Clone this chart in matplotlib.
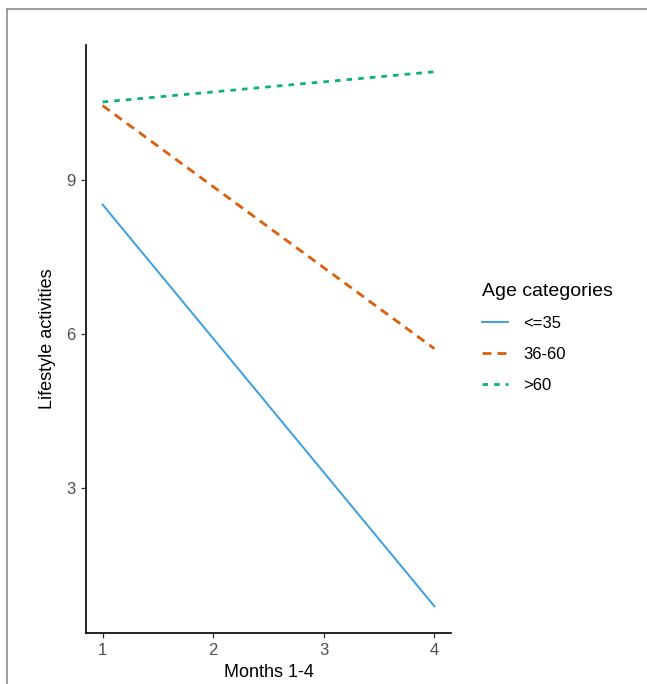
import numpy as np
import matplotlib.pyplot as plt
from matplotlib.lines import Line2D

plt.rcParams['font.family'] = ['Liberation Sans', 'DejaVu Sans']

# data
months = [1, 4]
age_labels = ['<=35', '36-60', '>60']
young = [8.53, 0.70]
middle = [10.46, 5.72]
old = [10.53, 11.12]
y_ticks = [3, 6, 9]
x_ticks = [1, 2, 3, 4]

colors = ['#3A9FE2', '#DD5E0A', '#0BB07A']

W, H = 647, 684
fig = plt.figure(figsize=(W / 100, H / 100), dpi=100)
ax = fig.add_axes([86 / W, 1 - 633 / H, (451 - 86) / W, (633 - 45) / H])

ax.plot(months, young, color=colors[0], lw=1.4, label=age_labels[0])
ax.plot(months, middle, color=colors[1], lw=2.0, ls=(0, (3.2, 2.2)), label=age_labels[1])
ax.plot(months, old, color=colors[2], lw=2.0, ls=(0, (2, 2.2)), label=age_labels[2])

# ggplot style 5% expansion
allv = np.concatenate([young, middle, old])
r = allv.max() - allv.min()
ax.set_ylim(allv.min() - 0.05 * r, allv.max() + 0.05 * r)
ax.set_xlim(1 - 0.05 * 3, 4 + 0.05 * 3)
ax.set_xticks(x_ticks)
ax.set_yticks(y_ticks)

for s in ['top', 'right']:
    ax.spines[s].set_visible(False)
for s in ['left', 'bottom']:
    ax.spines[s].set_linewidth(1.2)
    ax.spines[s].set_color('black')
ax.tick_params(length=3.5, width=0.9, colors='#333333', labelsize=12, labelcolor='#4D4D4D', pad=4)

ax.set_xlabel('Months 1-4', fontsize=13, labelpad=4)
ax.set_ylabel('Lifestyle activities', fontsize=13, labelpad=7)

leg = ax.legend(loc='upper left', bbox_to_anchor=(475 / W, 1 - 276 / H), bbox_transform=fig.transFigure,
                frameon=False, title='Age categories', fontsize=12, title_fontsize=14,
                handlelength=1.6, handletextpad=0.9, labelspacing=0.97, borderaxespad=0)
leg._legend_box.align = 'left'

# gray frame of the source picture (top and left only)
fig.add_artist(Line2D([7 / W, 1], [1 - 9 / H, 1 - 9 / H], transform=fig.transFigure, color='#8C8C8C', lw=1.2))
fig.add_artist(Line2D([7 / W, 7 / W], [1 - 9 / H, 0], transform=fig.transFigure, color='#8C8C8C', lw=1.2))

fig.savefig('out.png', dpi=100)
